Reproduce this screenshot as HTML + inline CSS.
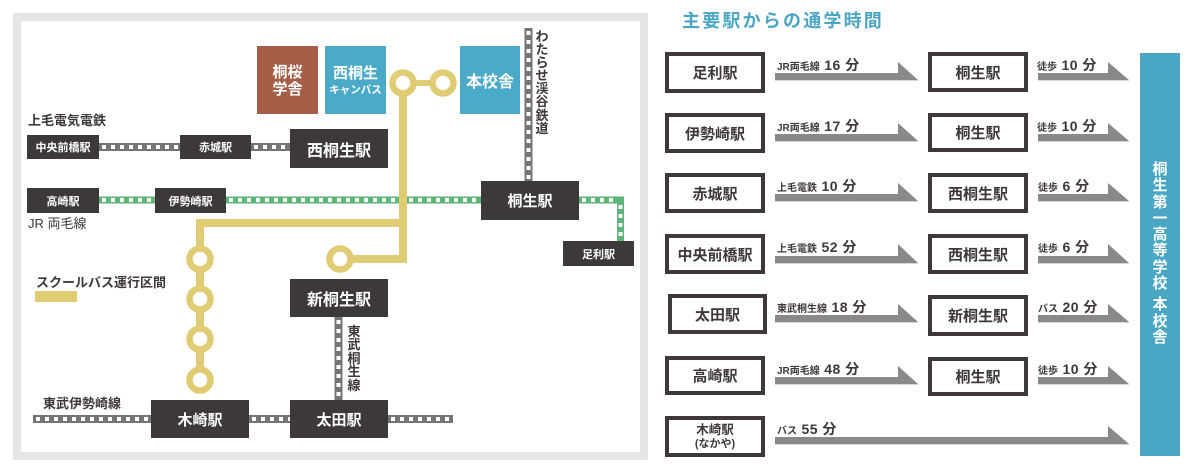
<!DOCTYPE html>
<html><head><meta charset="utf-8">
<style>
*{margin:0;padding:0;box-sizing:border-box}
html,body{width:1198px;height:475px;background:#fff;overflow:hidden}
body{position:relative;font-family:"Liberation Sans","Noto Sans CJK JP",sans-serif;color:#3e3838}
.a{position:absolute}
.panel{position:absolute;left:13px;top:13px;width:635px;height:447px;border:8px solid #e6e6e6;background:#fff}
.st{position:absolute;background:#3e3939;color:#fff;font-weight:bold;display:flex;align-items:center;justify-content:center;white-space:nowrap}
.s11{font-size:11px}
.s15{font-size:15px}
.s16{font-size:16px}
.bld{position:absolute;color:#fff;font-weight:bold;display:flex;flex-direction:column;align-items:center;justify-content:center;text-align:center}
.lbl{position:absolute;font-size:13px;font-weight:bold;white-space:nowrap;line-height:16px}
.vt{position:absolute;font-weight:bold;text-align:center}
.box{position:absolute;border:4px solid #3e3838;background:#fff;display:flex;align-items:center;justify-content:center;font-size:15px;font-weight:bold;white-space:nowrap;color:#3e3838}
.al{position:absolute;white-space:nowrap;line-height:16px;color:#3e3838}
.al .sm{font-size:10px;font-weight:bold}
.al .nm{font-size:14px;font-weight:bold;letter-spacing:0.5px}
</style></head><body>

<div class="panel"></div>

<svg class="a" style="left:0;top:0" width="1198" height="475" xmlns="http://www.w3.org/2000/svg">
 <g stroke="#757575" stroke-width="8" fill="none">
  <line x1="99" y1="147" x2="180" y2="147"/>
  <line x1="251" y1="147" x2="290" y2="147"/>
  <line x1="33" y1="419" x2="151" y2="419"/>
  <line x1="249" y1="419" x2="290" y2="419"/>
  <line x1="388" y1="419" x2="453" y2="419"/>
  <line x1="528.5" y1="28" x2="528.5" y2="181"/>
  <line x1="338.5" y1="317" x2="338.5" y2="400"/>
 </g>
 <g stroke="#fff" stroke-width="4" fill="none" stroke-dasharray="4 5">
  <line x1="102" y1="147" x2="180" y2="147"/>
  <line x1="254" y1="147" x2="290" y2="147"/>
  <line x1="36" y1="419" x2="151" y2="419"/>
  <line x1="252" y1="419" x2="290" y2="419"/>
  <line x1="391" y1="419" x2="451" y2="419"/>
  <line x1="528.5" y1="31" x2="528.5" y2="181"/>
  <line x1="338.5" y1="320" x2="338.5" y2="400"/>
 </g>
 <g stroke="#5eb57b" stroke-width="7" fill="none">
  <line x1="99" y1="200" x2="155" y2="200"/>
  <line x1="226" y1="200" x2="481" y2="200"/>
  <path d="M579 200 H620.5 V241"/>
 </g>
 <g stroke="#fff" stroke-width="4" fill="none" stroke-dasharray="4 5">
  <line x1="102" y1="200" x2="155" y2="200"/>
  <line x1="229" y1="200" x2="481" y2="200"/>
  <line x1="582" y1="200" x2="618" y2="200"/>
  <line x1="620.5" y1="205" x2="620.5" y2="241"/>
 </g>
 <g stroke="#e0cc74" fill="none" stroke-linejoin="miter">
  <path d="M200 380 V223 H403" stroke-width="8"/>
  <path d="M403 83 V259 H340" stroke-width="8"/>
  <line x1="403" y1="83" x2="443" y2="83" stroke-width="6"/>
 </g>
 <g stroke="#e0cc74" stroke-width="6.5" fill="#fff">
  <circle cx="403" cy="83" r="10.5"/>
  <circle cx="443" cy="83" r="10.5"/>
  <circle cx="200" cy="259" r="10.5"/>
  <circle cx="200" cy="299" r="10.5"/>
  <circle cx="200" cy="339" r="10.5"/>
  <circle cx="200" cy="380" r="10.5"/>
  <circle cx="340" cy="259" r="10.5"/>
 </g>
 <rect x="35" y="291" width="42" height="11" fill="#e0cc74"/>

 <g fill="#898989">
  <polygon points="775,73 898,73 898,62 918,80 775,80"/>
  <polygon points="775,134 898,134 898,123 918,141 775,141"/>
  <polygon points="775,194 898,194 898,183 918,201 775,201"/>
  <polygon points="775,256 898,256 898,244 918,263 775,263"/>
  <polygon points="775,315 898,315 898,304 918,322 775,322"/>
  <polygon points="775,377 898,377 898,366 918,384 775,384"/>
  <polygon points="1038,73 1108,73 1108,62 1129,80 1038,80"/>
  <polygon points="1038,134 1108,134 1108,123 1129,141 1038,141"/>
  <polygon points="1038,194 1108,194 1108,183 1129,201 1038,201"/>
  <polygon points="1038,256 1108,256 1108,244 1129,263 1038,263"/>
  <polygon points="1038,315 1108,315 1108,304 1129,322 1038,322"/>
  <polygon points="1038,377 1108,377 1108,366 1129,384 1038,384"/>
  <polygon points="775,437 1108,437 1108,426 1129,444 775,444"/>
 </g>
 <g fill="#d6d6d6">
  <rect x="775" y="80" width="143" height="1"/>
  <rect x="775" y="141" width="143" height="1"/>
  <rect x="775" y="201" width="143" height="1"/>
  <rect x="775" y="263" width="143" height="1"/>
  <rect x="775" y="322" width="143" height="1"/>
  <rect x="775" y="384" width="143" height="1"/>
  <rect x="1038" y="80" width="91" height="1"/>
  <rect x="1038" y="141" width="91" height="1"/>
  <rect x="1038" y="201" width="91" height="1"/>
  <rect x="1038" y="263" width="91" height="1"/>
  <rect x="1038" y="322" width="91" height="1"/>
  <rect x="1038" y="384" width="91" height="1"/>
  <rect x="775" y="444" width="354" height="1"/>
 </g>
</svg>

<div class="bld" style="left:257px;top:46px;width:61px;height:68px;background:#a65f46;font-size:15px;line-height:17px;padding-top:2px">桐桜<br>学舎</div>
<div class="bld" style="left:325px;top:46px;width:61px;height:68px;background:#4aaac8;padding-top:2px"><span style="font-size:15px;line-height:18px">西桐生</span><span style="font-size:10.5px;line-height:14px">キャンパス</span></div>
<div class="bld" style="left:460px;top:46px;width:60px;height:68px;background:#4aaac8;font-size:16px">本校舎</div>

<div class="st s11" style="left:27px;top:135px;width:72px;height:24px">中央前橋駅</div>
<div class="st s11" style="left:180px;top:135px;width:71px;height:24px">赤城駅</div>
<div class="st s16" style="left:290px;top:129px;width:98px;height:39px">西桐生駅</div>
<div class="st s11" style="left:27px;top:188px;width:72px;height:25px">高崎駅</div>
<div class="st s11" style="left:155px;top:188px;width:71px;height:25px">伊勢崎駅</div>
<div class="st s15" style="left:481px;top:181px;width:98px;height:39px">桐生駅</div>
<div class="st s11" style="left:563px;top:241px;width:71px;height:25px">足利駅</div>
<div class="st s16" style="left:290px;top:279px;width:98px;height:38px">新桐生駅</div>
<div class="st s15" style="left:151px;top:400px;width:98px;height:38px">木崎駅</div>
<div class="st s15" style="left:290px;top:400px;width:98px;height:38px">太田駅</div>

<div class="lbl" style="left:28px;top:113px">上毛電気電鉄</div>
<div class="lbl" style="left:28px;top:216px;font-weight:normal">JR 両毛線</div>
<div class="lbl" style="left:36px;top:275px">スクールバス運行区間</div>
<div class="lbl" style="left:43px;top:396px">東武伊勢崎線</div>
<div class="vt" style="left:535px;top:30px;width:14px;font-size:13px;line-height:13.1px">わ<br>た<br>ら<br>せ<br>渓<br>谷<br>鉄<br>道</div>
<div class="vt" style="left:347px;top:325px;width:14px;font-size:13px;line-height:13.4px">東<br>武<br>桐<br>生<br>線</div>

<div class="a" style="left:682px;top:9px;font-size:18px;font-weight:bold;color:#4aa6c4;letter-spacing:2.2px;line-height:24px;white-space:nowrap">主要駅からの通学時間</div>

<div class="box" style="left:665px;top:52px;width:100px;height:41px">足利駅</div>
<div class="box" style="left:665px;top:113px;width:100px;height:40px">伊勢崎駅</div>
<div class="box" style="left:665px;top:173px;width:100px;height:40px">赤城駅</div>
<div class="box" style="left:665px;top:234px;width:100px;height:40px">中央前橋駅</div>
<div class="box" style="left:668px;top:294px;width:99px;height:40px">太田駅</div>
<div class="box" style="left:665px;top:356px;width:100px;height:39px">高崎駅</div>
<div class="box" style="left:665px;top:416px;width:100px;height:41px;flex-direction:column;line-height:14px"><span style="font-size:12.5px">木崎駅</span><span style="font-size:11px">(なかや)</span></div>

<div class="box" style="left:928px;top:52px;width:100px;height:40px">桐生駅</div>
<div class="box" style="left:928px;top:113px;width:100px;height:39px">桐生駅</div>
<div class="box" style="left:928px;top:173px;width:100px;height:40px">西桐生駅</div>
<div class="box" style="left:928px;top:234px;width:100px;height:40px">西桐生駅</div>
<div class="box" style="left:928px;top:295px;width:100px;height:41px">新桐生駅</div>
<div class="box" style="left:928px;top:357px;width:100px;height:39px">桐生駅</div>

<div class="al" style="left:777px;top:57px"><span class="sm">JR両毛線</span> <span class="nm">16 分</span></div>
<div class="al" style="left:777px;top:118px"><span class="sm">JR両毛線</span> <span class="nm">17 分</span></div>
<div class="al" style="left:777px;top:178px"><span class="sm">上毛電鉄</span> <span class="nm">10 分</span></div>
<div class="al" style="left:777px;top:239px"><span class="sm">上毛電鉄</span> <span class="nm">52 分</span></div>
<div class="al" style="left:777px;top:299px"><span class="sm">東武桐生線</span> <span class="nm">18 分</span></div>
<div class="al" style="left:777px;top:361px"><span class="sm">JR両毛線</span> <span class="nm">48 分</span></div>
<div class="al" style="left:777px;top:421px"><span class="sm">バス</span> <span class="nm">55 分</span></div>

<div class="al" style="left:1037px;top:57px"><span class="sm">徒歩</span> <span class="nm">10 分</span></div>
<div class="al" style="left:1037px;top:118px"><span class="sm">徒歩</span> <span class="nm">10 分</span></div>
<div class="al" style="left:1038px;top:178px"><span class="sm">徒歩</span> <span class="nm">6 分</span></div>
<div class="al" style="left:1038px;top:239px"><span class="sm">徒歩</span> <span class="nm">6 分</span></div>
<div class="al" style="left:1038px;top:299px"><span class="sm">バス</span> <span class="nm">20 分</span></div>
<div class="al" style="left:1038px;top:361px"><span class="sm">徒歩</span> <span class="nm">10 分</span></div>

<div class="a" style="left:1140px;top:53px;width:40px;height:403px;background:#49a7c3"></div>
<div class="vt" style="left:1140px;top:162px;width:40px;font-size:15px;line-height:16.3px;color:#fff">桐<br>生<br>第<br>一<br>高<br>等<br>学<br>校<div style="height:5px"></div>本<br>校<br>舎</div>

</body></html>
